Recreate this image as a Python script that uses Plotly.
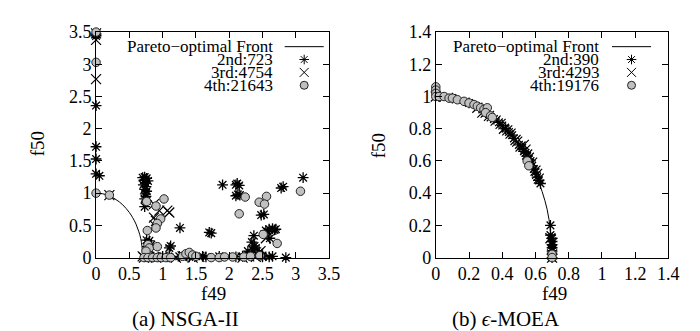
import plotly.graph_objects as go

# ---------------- data ----------------
front_f49 = [0.0, 0.1, 0.2, 0.3, 0.4, 0.5, 0.55, 0.6, 0.64, 0.67, 0.69, 0.7]
front_f50 = [1.0, 0.99, 0.96, 0.9, 0.82, 0.70, 0.62, 0.52, 0.41, 0.3, 0.17, 0.0]

# (a) NSGA-II
nsga_2nd = [(0, 3.47), (0, 3.44), (0, 2.36), (0, 1.72), (0, 1.53), (0, 1.3), (0.05, 1.27),
            (0.70, 1.24), (0.73, 1.25), (0.76, 1.23), (0.72, 1.2), (0.78, 1.19), (0.74, 1.16),
            (0.71, 1.13), (0.75, 1.1), (0.73, 1.06), (0.76, 1.03), (0.74, 0.99), (0.75, 0.95),
            (0.73, 0.91), (0.76, 0.88), (0.73, 0.79),
            (0.76, 0.27), (0.8, 0.26), (0.78, 0.22), (0.83, 0.2), (0.77, 0.17), (0.8, 0.13),
            (1.12, 0.18), (1.1, 0.15), (1.26, 0.46), (1.73, 0.38), (1.7, 0.39),
            (1.9, 1.13), (2.12, 1.15), (2.15, 1.12), (2.1, 1.13), (2.13, 0.98), (2.1, 0.96), (2.16, 0.97),
            (2.48, 0.66), (2.52, 0.67), (2.81, 1.1), (2.78, 1.08), (3.11, 1.24),
            (2.55, 0.42), (2.6, 0.44), (2.65, 0.45), (2.68, 0.43), (2.7, 0.44), (2.58, 0.4),
            (2.37, 0.34), (2.34, 0.24), (2.61, 0.3),
            (2.28, 0.1), (2.35, 0.12), (2.4, 0.15), (2.45, 0.08), (2.42, 0.05), (2.3, 0.04), (2.5, 0.03), (2.38, 0.18),
            (0.75, 0.02), (0.85, 0.01), (1.0, 0.02), (1.1, 0.01), (1.25, 0.02), (1.4, 0.01), (1.6, 0.02),
            (1.65, 0.01), (1.85, 0.02), (2.1, 0.01), (2.2, 0.02), (2.5, 0.01), (2.6, 0.01), (2.65, 0.02), (2.85, 0.0)]
nsga_3rd = [(0, 3.48), (0, 3.38), (0, 2.77), (0.2, 0.97), (0.87, 0.83), (0.95, 0.73), (1.07, 0.73), (1.1, 0.7),
            (0.87, 0.62), (0.9, 0.57), (0.88, 0.5), (0.7, 0.02), (0.72, 0.0), (0.8, 0.01), (0.9, 0.0),
            (1.0, 0.01), (1.2, 0.0), (1.3, 0.02), (1.45, 0.0), (1.55, 0.01), (2.2, 0.0), (2.3, 0.02),
            (2.4, 0.01), (2.42, 0.04), (2.47, 0.1), (2.55, 0.3)]
nsga_4th = [(0, 3.5), (0, 3.03), (0, 1.0), (0.2, 0.97), (0.76, 0.87), (1.02, 0.91), (0.9, 0.8), (0.97, 0.6),
            (0.92, 0.53), (0.9, 0.46), (0.77, 0.42), (0.78, 0.2), (0.8, 0.15), (0.92, 0.17), (0.75, 0.1),
            (0.72, 0.0), (0.78, 0.0), (0.85, 0.0), (0.92, 0.0), (0.98, 0.0), (1.05, 0.0), (1.12, 0.0),
            (1.3, 0.02), (1.35, 0.06), (1.4, 0.08), (1.45, 0.04), (1.5, 0.02), (1.73, 0.0), (1.85, 0.0),
            (1.93, 0.01), (2.05, 0.01), (2.22, 0.01), (2.32, 0.02), (2.46, 0.03),
            (2.24, 0.94), (2.56, 0.95), (2.45, 0.86), (2.53, 0.83), (2.15, 0.68), (3.07, 1.03),
            (2.51, 0.36), (2.72, 0.22)]

# (b) epsilon-MOEA
moea_2nd = [(0.02, 1.0), (0.1, 0.99), (0.2, 0.96), (0.28, 0.92), (0.3, 0.9), (0.33, 0.87), (0.35, 0.86),
            (0.38, 0.84), (0.4, 0.82), (0.42, 0.8), (0.44, 0.78), (0.46, 0.76), (0.47, 0.74), (0.5, 0.7),
            (0.52, 0.68), (0.53, 0.66), (0.54, 0.65), (0.55, 0.63), (0.56, 0.61), (0.57, 0.6), (0.58, 0.57),
            (0.59, 0.55), (0.6, 0.53), (0.61, 0.5), (0.62, 0.48), (0.63, 0.46), (0.69, 0.2), (0.69, 0.14),
            (0.7, 0.12), (0.7, 0.1), (0.7, 0.08), (0.7, 0.06), (0.7, 0.04), (0.7, 0.02), (0.7, 0.0)]
moea_3rd = [(0.0, 1.0), (0.25, 0.93), (0.28, 0.9), (0.3, 0.9), (0.32, 0.88), (0.36, 0.85), (0.39, 0.83),
            (0.41, 0.8), (0.43, 0.79), (0.45, 0.77), (0.48, 0.73), (0.49, 0.72), (0.51, 0.69), (0.53, 0.7),
            (0.54, 0.67), (0.55, 0.64), (0.56, 0.62), (0.58, 0.59), (0.6, 0.54), (0.61, 0.52), (0.62, 0.49),
            (0.69, 0.12), (0.7, 0.09), (0.7, 0.05), (0.7, 0.02), (0.7, 0.0)]
moea_4th = [(0, 1.06), (0, 1.04), (0, 1.02), (0, 1.0), (0.02, 1.0), (0.05, 1.0), (0.08, 0.99), (0.1, 0.99),
            (0.13, 0.98), (0.17, 0.97), (0.2, 0.96), (0.23, 0.95), (0.25, 0.94), (0.27, 0.93), (0.29, 0.92),
            (0.31, 0.93), (0.3, 0.9), (0.33, 0.88), (0.34, 0.87), (0.55, 0.6), (0.56, 0.57), (0.7, 0.02), (0.7, 0.0)]

labels_a = ["Pareto\u2212optimal Front", "2nd:723", "3rd:4754", "4th:21643"]
labels_b = ["Pareto\u2212optimal Front", "2nd:390", "3rd:4293", "4th:19176"]
captions = ["(a) NSGA-II", "(b) <i>\u03f5</i>-MOEA"]

# ---------------- styling ----------------
W, H = 700, 331
FONT = "Liberation Serif"
FS_TICK = 18
FS_LEG = 17
FS_TITLE = 19
FS_CAP = 21
GRAY = "#c0c0c0"

STAR = dict(symbol="asterisk-open", size=9, color="black", line=dict(color="black", width=1.3))
CROSS = dict(symbol="x-thin-open", size=10, color="black", line=dict(color="black", width=1.2))
CIRC = dict(symbol="circle", size=8.5, color=GRAY, line=dict(color="#222222", width=1))
KEY_STAR = dict(STAR, size=8, line=dict(color="black", width=1))
KEY_CROSS = dict(CROSS, size=9, line=dict(color="black", width=1))
KEY_CIRC = dict(CIRC, size=8)

fig = go.Figure()


def add_panel(xa, ya, front, s2, s3, s4):
    fig.add_trace(go.Scatter(x=front[0], y=front[1], mode="lines", line=dict(color="black", width=1, shape="spline"),
                             xaxis=xa, yaxis=ya, showlegend=False, cliponaxis=False))
    for pts, mk in ((s2, STAR), (s3, CROSS), (s4, CIRC)):
        fig.add_trace(go.Scatter(x=[p[0] for p in pts], y=[p[1] for p in pts], mode="markers",
                                 marker=mk, xaxis=xa, yaxis=ya, showlegend=False, cliponaxis=False))


add_panel("x", "y", (front_f49, front_f50), nsga_2nd, nsga_3rd, nsga_4th)
add_panel("x2", "y2", (front_f49, front_f50), moea_2nd, moea_3rd, moea_4th)

# legend (gnuplot style: text right-aligned, key sample to its right), in pixel-space overlay axis
rows = [30.5, 44.2, 57.9, 71.6]
for text_right, key_l, key_r, labels in ((268, 278, 318, labels_a), (602, 613, 653, labels_b)):
    kc = (key_l + key_r) / 2
    fig.add_trace(go.Scatter(x=[key_l, key_r], y=[rows[0], rows[0]], mode="lines",
                             line=dict(color="black", width=1), xaxis="x3", yaxis="y3", showlegend=False))
    for r, mk in zip(rows[1:], (KEY_STAR, KEY_CROSS, KEY_CIRC)):
        fig.add_trace(go.Scatter(x=[kc], y=[r], mode="markers", marker=mk, xaxis="x3", yaxis="y3",
                                 showlegend=False, cliponaxis=False))
    for r, lab in zip(rows, labels):
        fig.add_annotation(x=text_right / W, y=1 - r / H, xref="paper", yref="paper", text=lab,
                           showarrow=False, xanchor="right", yanchor="middle",
                           font=dict(family=FONT, size=FS_LEG, color="black"))

ax_common = dict(showline=True, linecolor="black", linewidth=1, mirror="ticks", ticks="inside", ticklen=6,
                 tickcolor="black", tickwidth=1, showgrid=False, zeroline=False,
                 tickfont=dict(family=FONT, size=FS_TICK, color="black"))
ydom = [1 - 255 / H, 1 - 15 / H]
fig.update_layout(
    width=W, height=H, margin=dict(l=0, r=0, t=0, b=0),
    paper_bgcolor="white", plot_bgcolor="rgba(0,0,0,0)",
    xaxis=dict(domain=[85 / W, 323.5 / W], range=[0, 3.5], dtick=0.5, anchor="y", **ax_common),
    yaxis=dict(domain=ydom, range=[0, 3.5], dtick=0.5, anchor="x", **ax_common),
    xaxis2=dict(domain=[432.7 / W, 670.7 / W], range=[0, 1.4], dtick=0.2, anchor="y2", **ax_common),
    yaxis2=dict(domain=ydom, range=[0, 1.4], dtick=0.2, anchor="x2", **ax_common),
    xaxis3=dict(domain=[0, 1], range=[0, W], visible=False, anchor="y3", fixedrange=True),
    yaxis3=dict(domain=[0, 1], range=[H, 0], visible=False, anchor="x3", fixedrange=True),
    showlegend=False,
)

# axis titles and captions
for tx, cx, cap in ((205, 177, captions[0]), (554, 505, captions[1])):
    fig.add_annotation(x=tx / W, y=1 - 293 / H, xref="paper", yref="paper", text="f49", showarrow=False,
                       xanchor="center", yanchor="middle", font=dict(family=FONT, size=FS_TITLE, color="black"))
    fig.add_annotation(x=cx / W, y=1 - 320 / H, xref="paper", yref="paper", text=cap, showarrow=False,
                       xanchor="center", yanchor="middle", font=dict(family=FONT, size=FS_CAP, color="black"))
for lx, ly in ((25, 134), (374, 136)):
    fig.add_annotation(x=lx / W, y=1 - ly / H, xref="paper", yref="paper", text="f50", showarrow=False,
                       textangle=-90, xanchor="center", yanchor="middle",
                       font=dict(family=FONT, size=FS_TITLE, color="black"))

fig.write_html("out.html")
